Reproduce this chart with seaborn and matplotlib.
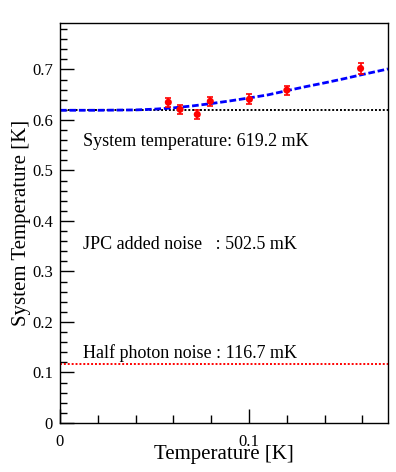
"""
System noise temperature vs. physical temperature, with fitted curve.
"""

import matplotlib
matplotlib.use('Agg')
import matplotlib.pyplot as plt
import seaborn as sns
import pandas as pd
from matplotlib.ticker import FixedLocator

temp_meas = [0.0573, 0.0635, 0.0726, 0.0795, 0.1002, 0.1200, 0.1590]
tsys_meas = [0.635, 0.621, 0.611, 0.637, 0.641, 0.659, 0.702]
tsys_err = [0.0086, 0.0090, 0.0092, 0.0090, 0.0102, 0.0092, 0.0102]

# fitted curve
temp_fit = [0.0, 0.02, 0.04, 0.05, 0.06, 0.07, 0.08, 0.09, 0.10,
            0.11, 0.12, 0.13, 0.14, 0.15, 0.16, 0.1735]
tsys_fit = [0.6192, 0.6192, 0.6199, 0.6214, 0.6240, 0.6278, 0.6325, 0.6378,
            0.6436, 0.6497, 0.6580, 0.6660, 0.6735, 0.6815, 0.6900, 0.7010]

T_SYS = 0.6192
T_HALF = 0.1167
labels = ["System temperature: 619.2 mK",
          "JPC added noise   : 502.5 mK",
          "Half photon noise : 116.7 mK"]
label_y = [0.5485, 0.3446, 0.129]

x_ticks = [0, 0.1]
x_ticklabels = ["0", "0.1"]
y_ticks = [0, 0.1, 0.2, 0.3, 0.4, 0.5, 0.6, 0.7]
y_ticklabels = ["0", "0.1", "0.2", "0.3", "0.4", "0.5", "0.6", "0.7"]

X_MAX = 0.1735
Y_MAX = 0.792


def main():
    sns.set_style("ticks")
    plt.rcParams['font.family'] = ['Liberation Serif', 'DejaVu Serif']
    plt.rcParams['xtick.direction'] = 'in'
    plt.rcParams['ytick.direction'] = 'in'
    for key in ['text.color', 'axes.labelcolor', 'xtick.color', 'ytick.color',
                'axes.edgecolor']:
        plt.rcParams[key] = 'black'

    fig = plt.figure(figsize=(3.96, 4.72), dpi=100)
    ax = fig.add_axes([60 / 396, 49 / 472, 328 / 396, 400 / 472])

    # reference lines
    ax.plot([0, X_MAX], [T_SYS, T_SYS], color='black', lw=1.4,
            linestyle=(0, (1, 1)), zorder=1)
    ax.plot([0, X_MAX], [T_HALF, T_HALF], color='red', lw=1.4,
            linestyle=(0, (1, 1)), zorder=1)

    fit = pd.DataFrame({"T": temp_fit, "Tsys": tsys_fit})
    sns.lineplot(data=fit, x="T", y="Tsys", color='blue', lw=2.0, ax=ax,
                 zorder=2)
    ax.lines[-1].set_dashes((2.4, 1.0))

    ax.errorbar(temp_meas, tsys_meas, yerr=tsys_err, fmt='none',
                ecolor='red', elinewidth=1.2, capsize=2.5, capthick=1.2,
                zorder=3)
    meas = pd.DataFrame({"T": temp_meas, "Tsys": tsys_meas})
    sns.scatterplot(data=meas, x="T", y="Tsys", color='red', s=26,
                    edgecolor='none', ax=ax, zorder=4)

    for txt, y in zip(labels, label_y):
        ax.text(0.0122, y, txt, fontsize=13, va='baseline', ha='left')

    ax.set_xlim(0, X_MAX)
    ax.set_ylim(0, Y_MAX)
    ax.xaxis.set_major_locator(FixedLocator(x_ticks))
    ax.xaxis.set_minor_locator(FixedLocator([0.02, 0.04, 0.06, 0.08,
                                             0.12, 0.14, 0.16]))
    ax.yaxis.set_major_locator(FixedLocator(y_ticks))
    ax.yaxis.set_minor_locator(FixedLocator(
        [i / 50 for i in range(40) if i % 5 != 0]))
    ax.set_xticklabels(x_ticklabels)
    ax.set_yticklabels(y_ticklabels)
    ax.tick_params(which='major', length=10, width=1, labelsize=12)
    ax.tick_params(axis='y', which='major', pad=5)
    ax.tick_params(axis='x', which='major', pad=8)
    ax.tick_params(which='minor', length=5, width=1)
    ax.tick_params(axis='x', which='minor', length=6)

    for s in ax.spines.values():
        s.set_linewidth(1.0)
        s.set_color('black')

    ax.set_xlabel("Temperature [K]", fontsize=15, labelpad=-4)
    ax.set_ylabel("System Temperature [K]", fontsize=15, labelpad=1)

    fig.savefig("out.png", dpi=100)
    plt.close(fig)


if __name__ == "__main__":
    main()
